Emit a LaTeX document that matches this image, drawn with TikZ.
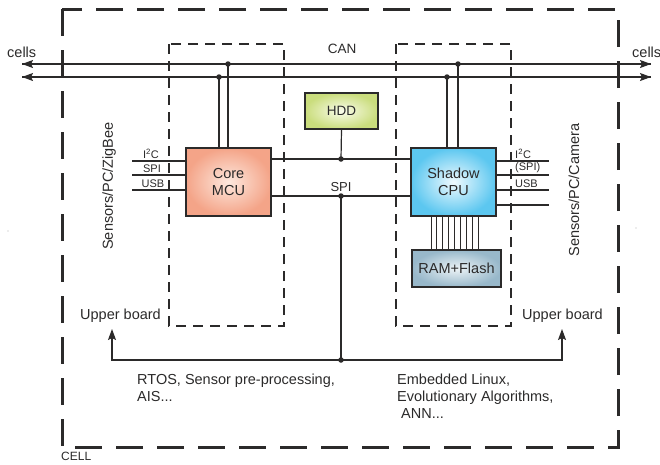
\documentclass[tikz,border=0pt]{standalone}
\usepackage{fontspec}
\setmainfont{Liberation Sans}
\usetikzlibrary{arrows.meta}
\definecolor{ink}{HTML}{2B2A2A}
\tikzset{
  x=1pt, y=-1pt,
  txt/.style={text=ink, inner sep=0pt, font=\fontsize{14.5}{17}\selectfont},
  small/.style={text=ink, inner sep=0pt, font=\fontsize{11}{13}\selectfont},
  box/.style={draw=ink, line width=1.3pt, inner sep=0pt, align=center, text=ink,
              font=\fontsize{14.5}{17}\selectfont},
  wire/.style={draw=ink, line width=1.2pt},
  region/.style={draw=ink, line width=1.2pt, dash pattern=on 10pt off 7pt},
  cellborder/.style={draw=ink, line width=3pt, dash pattern=on 27pt off 14pt},
  tip/.style={-{Stealth[length=11pt,width=8pt,inset=2pt]}},
  dot/.style={circle, fill=ink, inner sep=0pt, minimum size=5.5pt},
}
\begin{document}
\begin{tikzpicture}
\useasboundingbox (0,0) rectangle (660,464);
% outer cell
\draw[cellborder] (62,9) rectangle (618,447);
\node[small, anchor=north west, font=\fontsize{12}{14}\selectfont] (cell) at (61,452) {CELL};
% regions
\draw[region] (169,44) rectangle (284,326);
\draw[region] (396,44) rectangle (511,326);
% stray specks
\fill[gray!60] (8,231) circle (0.6);
\fill[gray!60] (636,228) circle (0.6);
% bus coordinates
\coordinate (bL1) at (22,64); \coordinate (bR1) at (651,64);
\coordinate (bL2) at (22,77); \coordinate (bR2) at (651,77);
\draw[wire, tip] (bR1) -- (bL1);
\draw[wire, tip] (bL1) -- (bR1);
\draw[wire, tip] (bR2) -- (bL2);
\draw[wire, tip] (bL2) -- (bR2);
\node[txt, anchor=west] (cellsL) at (7,52) {cells};
\node[txt, anchor=west] (cellsR) at (632,52) {cells};
\node[txt, font=\fontsize{13.5}{16}\selectfont] (can) at (342,49) {CAN};
% boxes
\node[box, minimum width=85pt, minimum height=68pt, inner color={rgb,255:red,253;green,232;blue,222}, outer color={rgb,255:red,244;green,164;blue,136}] (mcu) at (228.5,182) {Core\\MCU};
\node[box, minimum width=85pt, minimum height=68pt, inner color={rgb,255:red,240;green,250;blue,254}, outer color={rgb,255:red,92;green,199;blue,240}] (cpu) at (453.5,182) {Shadow\\CPU};
\node[box, minimum width=73pt, minimum height=36pt, inner color={rgb,255:red,250;green,252;blue,236}, outer color={rgb,255:red,202;green,221;blue,125}, font=\fontsize{13.5}{16}\selectfont] (hdd) at (341.5,111) {HDD};
\node[box, minimum width=89pt, minimum height=37pt, inner color={rgb,255:red,236;green,243;blue,246}, outer color={rgb,255:red,152;green,184;blue,202}] (ram) at (456.5,268.5) {RAM+Flash};
% MCU to bus
\node[dot] (dm1) at (219,77) {};
\node[dot] (dm2) at (228,64) {};
\draw[wire] (dm1.center) -- (dm1.center |- mcu.north);
\draw[wire] (dm2.center) -- (dm2.center |- mcu.north);
% CPU to bus
\node[dot] (dc1) at (447,77) {};
\node[dot] (dc2) at (458,64) {};
\draw[wire] (dc1.center) -- (dc1.center |- cpu.north);
\draw[wire] (dc2.center) -- (dc2.center |- cpu.north);
% MCU-CPU links
\draw[wire] (mcu.east |- 0,159) -- (cpu.west |- 0,159);
\draw[wire] (mcu.east |- 0,196) -- (cpu.west |- 0,196);
\node[dot] (dh) at (341,159) {};
\node[dot] (ds) at (341,196) {};
\draw[wire] (hdd.south) -- (dh.center);
\node[txt, font=\fontsize{13}{15}\selectfont, anchor=south] (spi) at (341,192) {SPI};
% left sensor lines
\coordinate (l1) at (132,161); \coordinate (l2) at (132,175); \coordinate (l3) at (132,190);
\draw[wire] (l1) -- (l1 -| mcu.west);
\draw[wire] (l2) -- (l2 -| mcu.west);
\draw[wire] (l3) -- (l3 -| mcu.west);
\node[small, anchor=south] (li2c) at (151,158.5) {I\textsuperscript{2}C};
\node[small, anchor=south] (lspi) at (152,172.5) {SPI};
\node[small, anchor=south] (lusb) at (153,187.5) {USB};
% right sensor lines
\coordinate (r1) at (549,161); \coordinate (r2) at (549,175); \coordinate (r3) at (549,190); \coordinate (r4) at (549,205);
\draw[wire] (r1 -| cpu.east) -- (r1);
\draw[wire] (r2 -| cpu.east) -- (r2);
\draw[wire] (r3 -| cpu.east) -- (r3);
\draw[wire] (r4 -| cpu.east) -- (r4);
\node[small, anchor=south west] (ri2c) at (515,158.5) {I\textsuperscript{2}C};
\node[small, anchor=south west] (rspi) at (515,172.5) {(SPI)};
\node[small, anchor=south west] (rusb) at (515,187.5) {USB};
% memory bus
\foreach \i in {0,...,8} {
  \draw[draw=ink, line width=1pt] ([xshift=\i*5.9pt]cpu.south -| 431,0) -- ([xshift=\i*5.9pt]ram.north -| 431,0);
}
% side labels
\node[txt, rotate=90] (zig) at (109,186) {Sensors/PC/ZigBee};
\node[txt, rotate=90] (cam) at (574,190) {Sensors/PC/Camera};
\node[txt, anchor=west] (ubL) at (80,316) {Upper board};
\node[txt, anchor=west] (ubR) at (522,316) {Upper board};
% bottom distribution
\node[dot] (db) at (341,360) {};
\coordinate (aL) at (112,329);
\coordinate (aR) at (562,329);
\draw[wire] (ds.center) -- (db.center);
\draw[wire, tip] (db.center) -| (aL);
\draw[wire, tip] (db.center) -| (aR);
% descriptions
\node[txt, anchor=north west, align=left] (rtos) at (137,374) {RTOS, Sensor pre-processing,\\AIS...};
\node[txt, anchor=north west, align=left] (linux) at (397,374) {Embedded Linux,\\Evolutionary Algorithms,\\\ ANN...};
\end{tikzpicture}
\end{document}
